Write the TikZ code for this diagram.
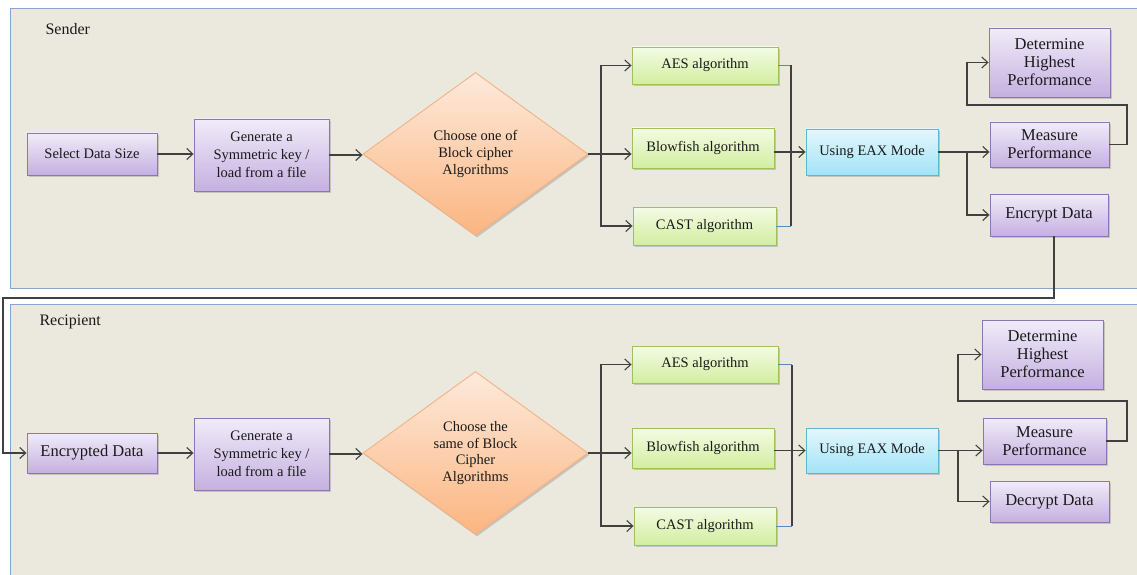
\documentclass[tikz,border=0pt]{standalone}
\usepackage{fontspec}
\setmainfont{Liberation Serif}
\usetikzlibrary{shapes.geometric,arrows.meta,shadows,calc}
\definecolor{panelfill}{HTML}{EBE8DE}
\definecolor{panelborder}{HTML}{86A6D0}
\definecolor{purTop}{HTML}{F0ECF9}
\definecolor{purBot}{HTML}{C5B0E0}
\definecolor{purBorder}{HTML}{8D74B3}
\definecolor{grnTop}{HTML}{F4FBE4}
\definecolor{grnBot}{HTML}{D2EEA0}
\definecolor{grnBorder}{HTML}{9CC25C}
\definecolor{orgTop}{HTML}{FDEADC}
\definecolor{orgBot}{HTML}{FBB580}
\definecolor{orgBorder}{HTML}{F4B183}
\definecolor{cynTop}{HTML}{E3F7FD}
\definecolor{cynBot}{HTML}{A3E3F7}
\definecolor{cynBorder}{HTML}{5FB7CF}
\definecolor{linec}{HTML}{404040}
\definecolor{segblue}{HTML}{5B87C0}
\definecolor{txt}{HTML}{1A1A1A}
\tikzset{
  base/.style={draw, inner sep=0pt, align=center, text=txt, line width=0.9pt,
    drop shadow={shadow xshift=1.5pt, shadow yshift=-2pt, opacity=0.35, fill=gray}},
  nf/.style={font=\fontsize{14.5}{18}\selectfont},
  lf/.style={font=\fontsize{16.5}{18}\selectfont},
  purbox/.style={base, rectangle, top color=purTop, bottom color=purBot, draw=purBorder},
  grnbox/.style={base, nf, rectangle, top color=grnTop, bottom color=grnBot, draw=grnBorder, minimum height=38pt},
  cynbox/.style={base, nf, rectangle, top color=cynTop, bottom color=cynBot, draw=cynBorder, minimum width=132pt, minimum height=46pt},
  choice/.style={base, diamond, top color=orgTop, bottom color=orgBot, draw=orgBorder,
    minimum width=225pt, minimum height=163pt, font=\fontsize{14.5}{16.7}\selectfont},
  panel/.style={fill=panelfill, draw=panelborder, line width=1pt},
  conn/.style={draw=linec, line width=1.1pt},
  arr/.style={conn, -{Straight Barb[length=6pt,width=11pt]}},
  seg/.style={draw=segblue, line width=1pt},
  lbl/.style={anchor=west, text=txt, font=\fontsize{16}{18}\selectfont}
}
\begin{document}
\begin{tikzpicture}[x=1pt,y=-1pt]
\useasboundingbox (0,0) rectangle (1137,575);
\fill[white] (0,0) rectangle (1137,575);
% panels
\path[panel] (10,9) -- (1140,9) -- (1140,288) -- (10,288) -- cycle;
\path[panel] (10,304) -- (1140,304) -- (1140,580) -- (10,580) -- cycle;
\node[lbl] (lsend) at (42,29) {Sender};
\node[lbl] (lrec) at (36,322) {Recipient};

% ---------- Sender ----------
\node[purbox, nf, minimum width=130pt, minimum height=42pt] (sds) at (92,154) {Select Data Size};
\node[purbox, nf, minimum width=135pt, minimum height=72pt] (gen1) at (261.5,155) {Generate a\\Symmetric key /\\load from a file};
\node[choice] (dia1) at (475.5,154) {Choose one of\\Block cipher\\Algorithms};
\node[grnbox, minimum width=146pt, minimum height=37pt] (aes1) at (705,65.5) {AES algorithm};
\node[grnbox, minimum width=142pt, minimum height=40pt] (blo1) at (703,148) {Blowfish algorithm};
\node[grnbox, minimum width=143pt] (cast1) at (704.5,226) {CAST algorithm};
\node[cynbox] (eax1) at (872,152) {Using EAX Mode};
\node[purbox, lf, minimum width=121pt, minimum height=69pt] (det1) at (1049.5,62.5) {Determine\\Highest\\Performance};
\node[purbox, lf, minimum width=119pt, minimum height=45pt] (mea1) at (1049.5,144.5) {Measure\\Performance};
\node[purbox, lf, minimum width=118pt, minimum height=42pt] (enc1) at (1049,215) {Encrypt Data};

\coordinate (br1) at (601,154);
\coordinate (mg1) at (791,0);
\coordinate (sp1) at (967,152);
\coordinate (lpa1) at (1127,105);
\coordinate (lpb1) at (967,105);

\draw[arr] (sds.east) -- (sds.east -| gen1.west);
\draw[arr] (gen1.east) -- (gen1.east -| dia1.west);
\draw[arr] (dia1.east) -- (dia1.east -| blo1.west);
\draw[arr] (br1) |- (aes1.west);
\draw[arr] (br1) |- (cast1.west);
\draw[seg] (aes1.east) -- (aes1.east -| mg1);
\draw[seg] (cast1.east) -- (cast1.east -| mg1);
\draw[conn] (aes1.east -| mg1) -- (cast1.east -| mg1);
\draw[arr] (eax1.west -| blo1.east) -- (eax1.west);
\draw[arr] (eax1.east) -- (eax1.east -| mea1.west);
\draw[arr] (sp1) |- (enc1.west);
\draw[arr] (mea1.east) -- (mea1.east -| lpa1) -- (lpa1) -- (lpb1) |- (det1.west);

% ---------- Recipient ----------
\node[purbox, lf, minimum width=130pt, minimum height=40pt] (ed2) at (92,453) {Encrypted Data};
\node[purbox, nf, minimum width=135pt, minimum height=72pt] (gen2) at (261.5,454) {Generate a\\Symmetric key /\\load from a file};
\node[choice] (dia2) at (475.5,453) {Choose the\\same of Block\\Cipher\\Algorithms};
\node[grnbox, minimum width=146pt, minimum height=37pt] (aes2) at (705,364.5) {AES algorithm};
\node[grnbox, minimum width=142pt, minimum height=40pt] (blo2) at (703,448) {Blowfish algorithm};
\node[grnbox, minimum width=142pt] (cast2) at (705,526) {CAST algorithm};
\node[cynbox, minimum height=45pt] (eax2) at (872,450.5) {Using EAX Mode};
\node[purbox, lf, minimum width=121pt, minimum height=69pt] (det2) at (1042.5,354.5) {Determine\\Highest\\Performance};
\node[purbox, lf, minimum width=123pt, minimum height=46pt] (mea2) at (1044.5,441) {Measure\\Performance};
\node[purbox, lf, minimum width=119pt, minimum height=41pt] (dec2) at (1049.5,501.5) {Decrypt Data};

\coordinate (br2) at (601,453);
\coordinate (mg2) at (792,0);
\coordinate (sp2) at (958,450);
\coordinate (lpa2) at (1127,401);
\coordinate (lpb2) at (958,401);

\draw[arr] (ed2.east) -- (ed2.east -| gen2.west);
\draw[arr] (gen2.east) -- (gen2.east -| dia2.west);
\draw[arr] (dia2.east) -- (dia2.east -| blo2.west);
\draw[arr] (br2) |- (aes2.west);
\draw[arr] (br2) |- (cast2.west);
\draw[seg] (aes2.east) -- (aes2.east -| mg2);
\draw[seg] (cast2.east) -- (cast2.east -| mg2);
\draw[conn] (aes2.east -| mg2) -- (cast2.east -| mg2);
\draw[arr] (eax2.west -| blo2.east) -- (eax2.west);
\draw[arr] (eax2.east) -- (eax2.east -| mea2.west);
\draw[arr] (sp2) |- (dec2.west);
\draw[arr] (mea2.east) -- (mea2.east -| lpa2) -- (lpa2) -- (lpb2) |- (det2.west);

% ---------- link between panels ----------
\coordinate (lnk) at (3,298);
\draw[arr] ([xshift=5pt]enc1.south) |- (lnk) |- (ed2.west);
\end{tikzpicture}
\end{document}
